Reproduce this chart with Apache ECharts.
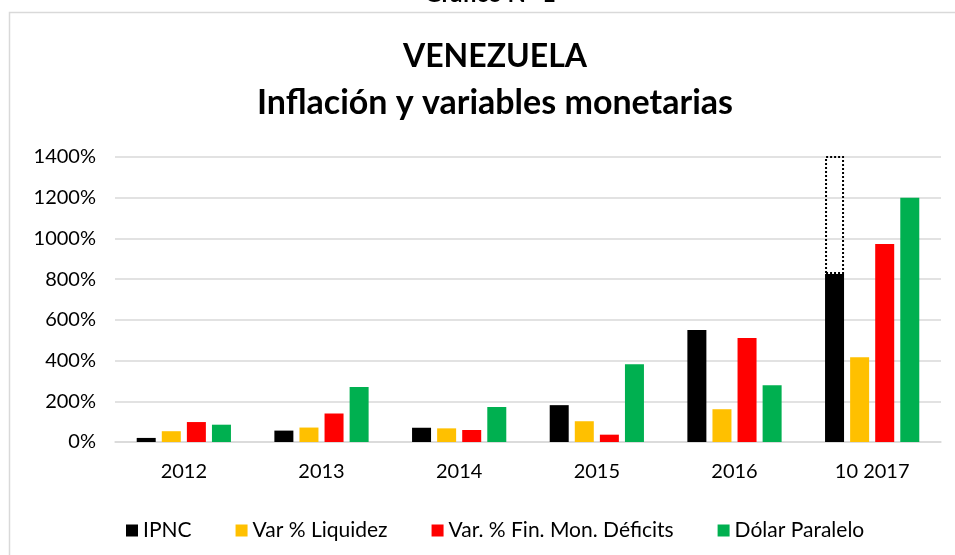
<!DOCTYPE html>
<html>
<head>
<meta charset="utf-8">
<script src="https://cdn.jsdelivr.net/npm/echarts@6/dist/echarts.min.js"></script>
<style>
  html, body { margin: 0; padding: 0; background: #fff; }
  #chart { width: 955px; height: 555px; }
</style>
</head>
<body>
<div id="chart"></div>
<script>
// datos (en %)
const years = ['2012', '2013', '2014', '2015', '2016', '10 2017']
const ipnc = [20, 56, 70, 181, 550, 825]
const liquidez = [53, 71, 67, 102, 161, 416]
const finMon = [98, 140, 59, 36, 511, 973]
const dolar = [85, 270, 172, 382, 279, 1200]
// tramo punteado sobre el IPNC de 2017
const ipncExtra = [null, null, null, null, null, 625]
const yTicks = { min: 0, max: 1400, interval: 200 }

const seriesNames = ['IPNC', 'Var % Liquidez', 'Var. % Fin. Mon. Déficits', 'Dólar Paralelo']
const colors = ['#000000', '#FFC000', '#FF0000', '#00B050']
const font = 'Lato, "Open Sans", sans-serif'

const chart = echarts.init(document.getElementById('chart'))

const barBase = {
  type: 'bar',
  barWidth: 19,
  barGap: '32%'
}

const option = {
  backgroundColor: '#fff',
  animation: false,
  graphic: [
    // marco del grafico
    {
      type: 'rect',
      shape: { x: 9.5, y: 12.5, width: 960, height: 560 },
      style: { fill: 'none', stroke: '#d9d9d9', lineWidth: 1.5 },
      silent: true
    },
    // titulo cortado arriba
    {
      type: 'text',
      x: 490,
      y: 6,
      style: {
        text: 'Gráfico N° 1',
        font: 'bold 24px ' + font,
        fill: '#000',
        align: 'center',
        verticalAlign: 'bottom'
      }
    }
  ],
  title: [
    {
      text: 'VENEZUELA',
      left: 490,
      textAlign: 'center',
      top: 36,
      textStyle: { fontFamily: font, fontWeight: 'bold', fontSize: 32, color: '#000' }
    },
    {
      text: 'Inflación y variables monetarias',
      left: 490,
      textAlign: 'center',
      top: 81,
      textStyle: { fontFamily: font, fontWeight: 'bold', fontSize: 34, color: '#000' }
    }
  ],
  legend: {
    data: seriesNames,
    top: 515,
    left: 121,
    icon: 'rect',
    itemWidth: 12,
    itemHeight: 12,
    itemGap: 44,
    textStyle: { fontFamily: font, fontSize: 21, color: '#000' }
  },
  grid: {
    left: 115,
    right: 14,
    top: 157,
    bottom: 113
  },
  xAxis: {
    type: 'category',
    data: years,
    axisTick: { show: false },
    axisLine: { lineStyle: { color: '#d9d9d9', width: 1.5 } },
    axisLabel: { fontFamily: font, fontSize: 20, color: '#000', margin: 20 }
  },
  yAxis: {
    type: 'value',
    min: yTicks.min,
    max: yTicks.max,
    interval: yTicks.interval,
    axisLine: { show: false },
    axisTick: { show: false },
    axisLabel: {
      formatter: v => v + '%',
      fontFamily: font,
      fontSize: 20,
      color: '#000',
      margin: 19
    },
    splitLine: { lineStyle: { color: '#d9d9d9', width: 1.5 } }
  },
  series: [
    { ...barBase, name: seriesNames[0], data: ipnc, stack: 'ipnc', itemStyle: { color: colors[0] } },
    { ...barBase, name: seriesNames[1], data: liquidez, itemStyle: { color: colors[1] } },
    { ...barBase, name: seriesNames[2], data: finMon, itemStyle: { color: colors[2] } },
    { ...barBase, name: seriesNames[3], data: dolar, itemStyle: { color: colors[3] } },
    {
      ...barBase,
      name: 'IPNC extra',
      data: ipncExtra,
      stack: 'ipnc',
      itemStyle: {
        color: 'rgba(0,0,0,0)',
        borderColor: '#000',
        borderWidth: 2,
        borderType: [2, 2]
      }
    }
  ]
}

chart.setOption(option)
</script>
</body>
</html>
